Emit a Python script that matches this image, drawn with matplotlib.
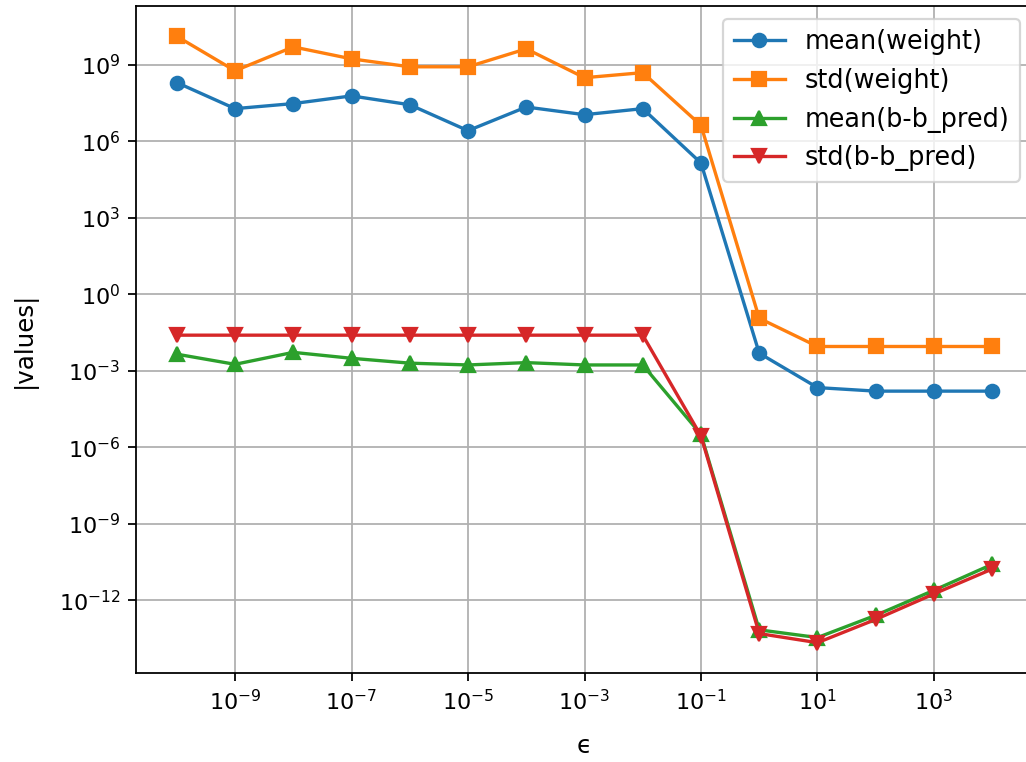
import numpy as np
import matplotlib.pyplot as plt

eps = [1e-10, 1e-9, 1e-8, 1e-7, 1e-6, 1e-5, 1e-4, 1e-3, 1e-2, 1e-1, 1e0, 1e1, 1e2, 1e3, 1e4]

mean_w = [2e8, 1.9e7, 3e7, 6e7, 2.7e7, 2.6e6, 2.2e7, 1.1e7, 1.9e7,
          1.4e5, 4.9e-3, 2.2e-4, 1.6e-4, 1.6e-4, 1.6e-4]
std_w = [1.3e10, 5.8e8, 5e9, 1.7e9, 8.3e8, 8.3e8, 4.2e9, 3.1e8, 4.9e8,
         4.2e6, 0.115, 9e-3, 9e-3, 9e-3, 9e-3]
mean_b = [4.5e-3, 1.8e-3, 5.3e-3, 3.1e-3, 2e-3, 1.7e-3, 2.1e-3, 1.7e-3, 1.7e-3,
          3.2e-6, 7e-14, 3.5e-14, 2.6e-13, 2.5e-12, 2.6e-11]
std_b = [0.025, 0.025, 0.025, 0.025, 0.025, 0.025, 0.025, 0.025, 0.025,
         2.8e-6, 5e-14, 2.2e-14, 1.8e-13, 1.8e-12, 1.7e-11]

fig = plt.figure(figsize=(1026 / 160, 762 / 160), dpi=160)
# the original was cropped, right spine sits just outside the picture
fig.subplots_adjust(left=136 / 1026, right=1033 / 1026, top=1 - 6 / 762, bottom=1 - 673 / 762)
ax = fig.add_subplot(111)

ax.loglog(eps, mean_w, "o-", label="mean(weight)")
ax.loglog(eps, std_w, "s-", label="std(weight)")
ax.loglog(eps, mean_b, "^-", label="mean(b-b_pred)")
ax.loglog(eps, std_b, "v-", label="std(b-b_pred)")

ax.set_xticks([1e-9, 1e-7, 1e-5, 1e-3, 1e-1, 1e1, 1e3])
ax.set_yticks([1e-12, 1e-9, 1e-6, 1e-3, 1e0, 1e3, 1e6, 1e9])
ax.minorticks_off()
ax.grid(True)
ax.set_xlabel("\u03f5", fontsize=11, labelpad=9)
ax.set_ylabel("|values|", fontsize=11, labelpad=10)
ax.legend(loc="upper right", fontsize=11.5)

fig.savefig("out.png", dpi=160)
